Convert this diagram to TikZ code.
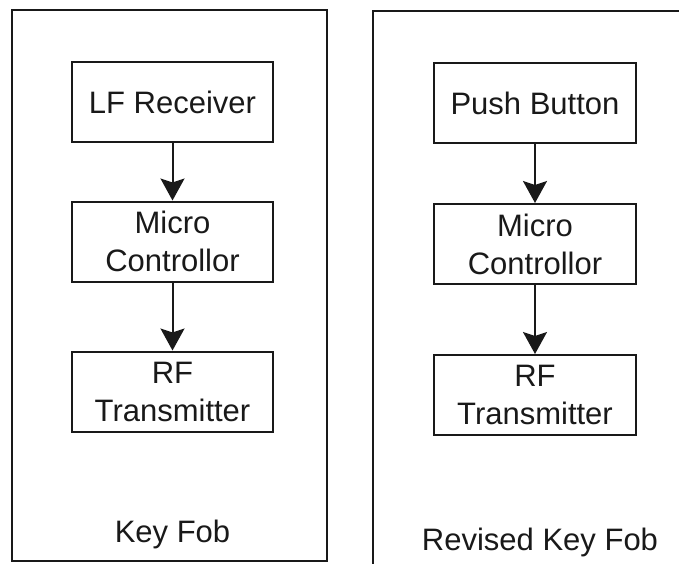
\documentclass[tikz,border=0pt]{standalone}
\usepackage{fontspec}
\setmainfont{Liberation Sans}
\usetikzlibrary{arrows.meta}
\begin{document}
\begin{tikzpicture}[x=1pt,y=-1pt,
  line width=2pt, color=black!90,
  block/.style={draw, rectangle, minimum width=201pt, minimum height=80pt,
    inner sep=0pt, align=center, font=\fontsize{31}{38}\selectfont},
  caption/.style={anchor=base, inner sep=0pt, font=\fontsize{31}{38}\selectfont},
  flow/.style={-{Stealth[length=22pt,width=24pt,inset=4pt]}}]
\useasboundingbox (0,0) rectangle (679,564);

% outer frames
\draw (12,10) rectangle (327,561);
\draw (681,11) -- (373,11) -- (373,566);

% original key fob
\node[block] (lf)  at (172.5,102)   {LF Receiver};
\node[block] (mc1) at (172.5,241.5) {Micro\\Controllor};
\node[block] (rf1) at (172.5,391.5) {RF\\Transmitter};
\node[caption] (cap1) at (172.5,542) {Key Fob};
\draw[flow] (lf) -- (mc1);
\draw[flow] (mc1) -- (rf1);

% revised key fob
\node[block, minimum width=202pt] (pb)  at (535,103) {Push Button};
\node[block, minimum width=202pt] (mc2) at (535,244) {Micro\\Controllor};
\node[block, minimum width=202pt] (rf2) at (535,395) {RF\\Transmitter};
\node[caption] (cap2) at (540,550) {Revised Key Fob};
\draw[flow] (pb) -- (mc2);
\draw[flow] (mc2) -- (rf2);
\end{tikzpicture}
\end{document}
